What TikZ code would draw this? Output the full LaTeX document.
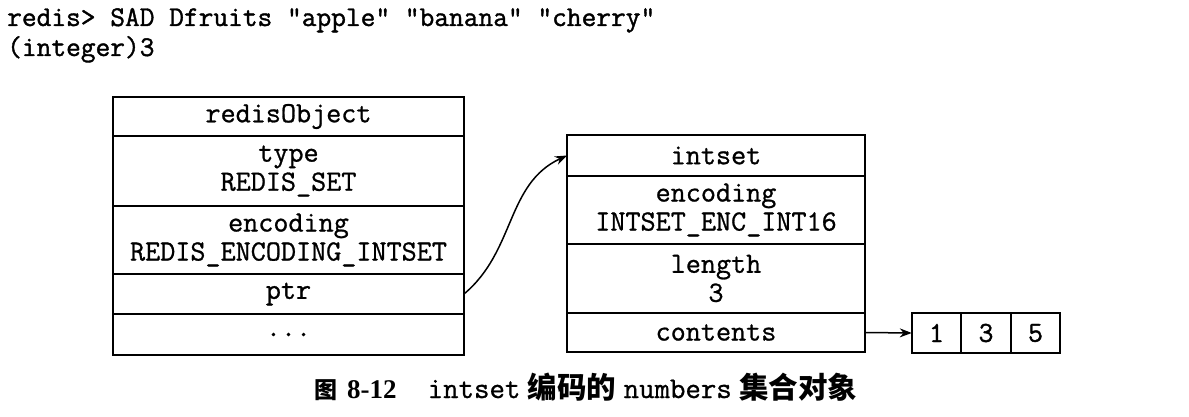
\documentclass[tikz,border=0pt]{standalone}
\usepackage{fontspec}
\setmainfont{Liberation Serif}
\newfontfamily\cjk{Noto Sans CJK SC}
\newfontfamily\boxmono[FakeBold=0.9]{Latin Modern Mono}
\newfontfamily\cmdmono[FakeBold=1.3]{Latin Modern Mono}
\usetikzlibrary{positioning,arrows.meta}

\tikzset{
  cell/.style={draw, line width=1.8pt, outer sep=0pt, inner sep=0pt, align=center,
    font=\fontsize{29.3}{29}\selectfont\boxmono},
  objcell/.style={cell, minimum width=351pt},
  setcell/.style={cell, minimum width=298pt},
  numcell/.style={cell, minimum width=49.5pt, minimum height=40pt, font=\fontsize{29}{29}\selectfont\cmdmono},
  link/.style={line width=1.5pt, -{Stealth[length=12pt,width=9pt]}},
  cmdline/.style={anchor=base west, inner sep=0pt, font=\fontsize{28.6}{29}\selectfont\cmdmono}
}

\begin{document}
\begin{tikzpicture}[x=1pt,y=-1pt]
\useasboundingbox (0,0) rectangle (1189,417);

% the command and its reply
\node[cmdline] (cmd) at (7,26) {redis> SAD Dfruits "apple" "banana" "cherry"};
\node[cmdline] (reply) at (7,56) {(integer)3};

% redisObject
\node[objcell, minimum height=39pt] (obj) at (288.5,116.5) {redisObject};
\node[objcell, minimum height=70pt, below=0pt of obj] (type) {type\\REDIS\_SET};
\node[objcell, minimum height=68pt, below=0pt of type] (enc) {encoding\\REDIS\_ENCODING\_INTSET};
\node[objcell, minimum height=40pt, below=0pt of enc] (ptr) {ptr};
\node[objcell, minimum height=41pt, below=0pt of ptr] (more) {...};

% intset
\node[setcell, minimum height=41pt] (iset) at (716,155.5) {intset};
\node[setcell, minimum height=68pt, below=0pt of iset] (isenc) {encoding\\INTSET\_ENC\_INT16};
\node[setcell, minimum height=69pt, below=0pt of isenc] (islen) {length\\3};
\node[setcell, minimum height=39pt, below=0pt of islen] (cont) {contents};

% contents array
\node[numcell] (n1) at (936.5,333) {1};
\node[numcell, right=0pt of n1] (n3) {3};
\node[numcell, right=0pt of n3] (n5) {5};

\draw[link] (ptr.east) to[out=40,in=205] (iset.west);
\draw[link] (cont.east) -- (n1.west);

% caption
\node[anchor=base west, inner sep=0pt, font=\fontsize{29.5}{29}\selectfont] (caption) at (314,398)
  {{\cjk\bfseries\fontsize{23}{29}\selectfont 图}\hspace{10pt}{\bfseries\fontsize{27}{29}\selectfont 8-12}\hspace{31pt}{\boxmono\fontsize{30}{29}\selectfont intset} {\cjk\bfseries 编码的} {\boxmono\fontsize{30}{29}\selectfont numbers} {\cjk\bfseries 集合对象}};
\end{tikzpicture}
\end{document}
